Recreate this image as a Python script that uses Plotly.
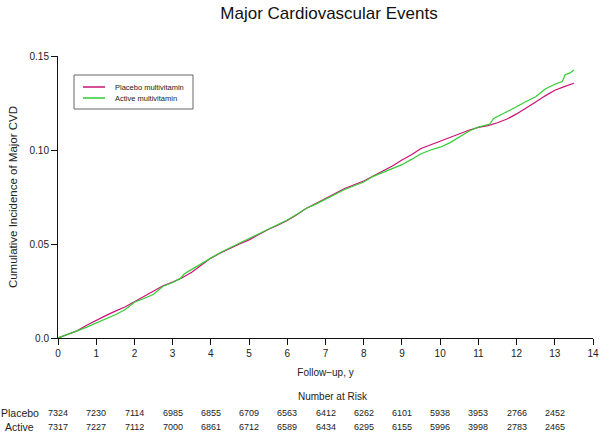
import plotly.graph_objects as go

# ---- data ----
placebo_t = [0.00, 0.25, 0.50, 0.75, 1.00, 1.25, 1.50, 1.75, 2.00, 2.25, 2.50, 2.75, 3.00, 3.25, 3.50,
             3.75, 4.00, 4.25, 4.50, 4.75, 5.00, 5.25, 5.50, 5.75, 6.00, 6.25, 6.50, 6.75, 7.00, 7.25,
             7.50, 7.75, 8.00, 8.25, 8.50, 8.75, 9.00, 9.25, 9.50, 9.75, 10.00, 10.25, 10.50, 10.75,
             11.00, 11.25, 11.50, 11.75, 12.00, 12.25, 12.50, 12.75, 13.00, 13.25, 13.50]
placebo_v = [0.0000, 0.0018, 0.0038, 0.0068, 0.0095, 0.0119, 0.0143, 0.0165, 0.0193, 0.0222, 0.0253,
             0.0278, 0.0297, 0.0320, 0.0350, 0.0388, 0.0425, 0.0452, 0.0477, 0.0500, 0.0522, 0.0550,
             0.0577, 0.0600, 0.0625, 0.0655, 0.0690, 0.0715, 0.0742, 0.0770, 0.0795, 0.0815, 0.0835,
             0.0862, 0.0888, 0.0915, 0.0947, 0.0975, 0.1008, 0.1028, 0.1045, 0.1065, 0.1085, 0.1105,
             0.1120, 0.1130, 0.1145, 0.1165, 0.1192, 0.1222, 0.1255, 0.1288, 0.1318, 0.1337, 0.1355]

active_t = [0.00, 0.25, 0.50, 0.75, 1.00, 1.25, 1.50, 1.75, 2.00, 2.25, 2.50, 2.75, 3.00, 3.20, 3.30,
            3.50, 3.75, 4.00, 4.25, 4.50, 4.75, 5.00, 5.25, 5.50, 5.75, 6.00, 6.25, 6.50, 6.75, 7.00,
            7.25, 7.50, 7.75, 8.00, 8.25, 8.50, 8.75, 9.00, 9.25, 9.50, 9.75, 10.00, 10.25, 10.50,
            10.75, 11.00, 11.30, 11.40, 11.75, 12.00, 12.25, 12.50, 12.75, 13.00, 13.20, 13.27,
            13.40, 13.50]
active_v = [0.0000, 0.0017, 0.0038, 0.0058, 0.0080, 0.0098, 0.0124, 0.0150, 0.0190, 0.0210, 0.0233,
            0.0275, 0.0295, 0.0317, 0.0340, 0.0365, 0.0395, 0.0428, 0.0455, 0.0480, 0.0505, 0.0530,
            0.0557, 0.0582, 0.0605, 0.0628, 0.0658, 0.0690, 0.0712, 0.0738, 0.0768, 0.0790, 0.0810,
            0.0830, 0.0860, 0.0880, 0.0900, 0.0922, 0.0950, 0.0980, 0.1000, 0.1015, 0.1038, 0.1070,
            0.1100, 0.1122, 0.1138, 0.1168, 0.1202, 0.1230, 0.1258, 0.1283, 0.1324, 0.1350, 0.1364,
            0.1400, 0.1410, 0.1426]

series_names = ["Placebo multivitamin", "Active multivitamin"]
row_labels = ["Placebo", "Active"]
risk_times = list(range(14))
placebo_risk = [7324, 7230, 7114, 6985, 6855, 6709, 6563, 6412, 6262, 6101, 5938, 3953, 2766, 2452]
active_risk = [7317, 7227, 7112, 7000, 6861, 6712, 6589, 6434, 6295, 6155, 5996, 3998, 2783, 2465]

x_ticks = list(range(15))
y_ticks = [0.0, 0.05, 0.10, 0.15]
y_ticktext = ["0.0", "0.05", "0.10", "0.15"]

# ---- figure ----
FONT = "Liberation Sans, Arial, sans-serif"
PINK = "#CD1076"
GREEN = "#32CD32"
colors = [PINK, GREEN]

fig = go.Figure()
fig.add_trace(go.Scatter(x=placebo_t, y=placebo_v, mode="lines", name=series_names[0],
                         line=dict(color=PINK, width=1.2)))
fig.add_trace(go.Scatter(x=active_t, y=active_v, mode="lines", name=series_names[1],
                         line=dict(color=GREEN, width=1.2)))

W, H = 600, 432
ml, mr, mt, mb = 58, 7, 56, 94
plot_w = W - ml - mr
plot_h = H - mt - mb
XMAX = 14

def py(pix):
    return (H - mb - pix) / plot_h

def px(pix):
    return (pix - ml) / plot_w

annotations = []
shapes = []
annotations.append(dict(text="Number at Risk", x=7.2, xref="x", y=py(396), yref="paper",
                        showarrow=False, font=dict(size=10, color="#222", family=FONT),
                        xanchor="center", yanchor="middle"))
for lab, vals, ypix in [(row_labels[0], placebo_risk, 413), (row_labels[1], active_risk, 427)]:
    annotations.append(dict(text=lab, x=-1 / XMAX, xref="paper", y=py(ypix), yref="paper",
                            showarrow=False, font=dict(size=10.5, color="#222", family=FONT),
                            xanchor="center", yanchor="middle"))
    for t, v in zip(risk_times, vals):
        annotations.append(dict(text=str(v), x=t, xref="x", y=py(ypix), yref="paper",
                                showarrow=False, font=dict(size=9, color="#222", family=FONT),
                                xanchor="center", yanchor="middle"))

# legend box (drawn to match the compact original legend)
shapes.append(dict(type="rect", xref="paper", yref="paper", x0=px(74), x1=px(193), y0=py(109),
                   y1=py(75), line=dict(color="#666", width=1), fillcolor="white", layer="above"))
for i, (nm, col) in enumerate(zip(series_names, colors)):
    yy = py(87 + 11 * i)
    shapes.append(dict(type="line", xref="paper", yref="paper", x0=px(83), x1=px(105), y0=yy, y1=yy,
                       line=dict(color=col, width=1.5), layer="above"))
    annotations.append(dict(text=nm, x=px(113), xref="paper", y=yy, yref="paper", showarrow=False,
                            font=dict(size=7.5, color="#222", family=FONT),
                            xanchor="left", yanchor="middle"))

fig.update_layout(
    width=W, height=H,
    margin=dict(l=ml, r=mr, t=mt, b=mb, autoexpand=False),
    paper_bgcolor="white", plot_bgcolor="white",
    font=dict(family=FONT, color="#222"),
    title=dict(text="Major Cardiovascular Events", x=329 / W, xanchor="center",
               y=1 - 13 / H, yanchor="middle", yref="container",
               font=dict(size=17, color="#111", family=FONT)),
    showlegend=False,
    annotations=annotations,
    shapes=shapes,
)
fig.update_xaxes(range=[0, XMAX], tickvals=x_ticks, ticks="outside", ticklen=6, tickwidth=1,
                 tickcolor="#111", showline=True, linecolor="#111", linewidth=1,
                 showgrid=False, zeroline=False, tickfont=dict(size=10, color="#222"),
                 ticklabeloverflow="allow",
                 title=dict(text="Follow\u2212up, y", font=dict(size=10, color="#222"), standoff=10))
fig.update_yaxes(range=[0, 0.15], tickvals=y_ticks, ticktext=y_ticktext, ticks="outside", ticklen=6,
                 tickwidth=1, tickcolor="#111", showline=True, linecolor="#111", linewidth=1,
                 showgrid=False, zeroline=False, tickfont=dict(size=10, color="#222"),
                 title=dict(text="Cumulative Incidence of Major CVD", font=dict(size=11.5, color="#222"),
                            standoff=9))

fig.write_html("out.html", config={"displayModeBar": False},
               post_script="document.body.style.margin='0';document.body.style.padding='0';")
